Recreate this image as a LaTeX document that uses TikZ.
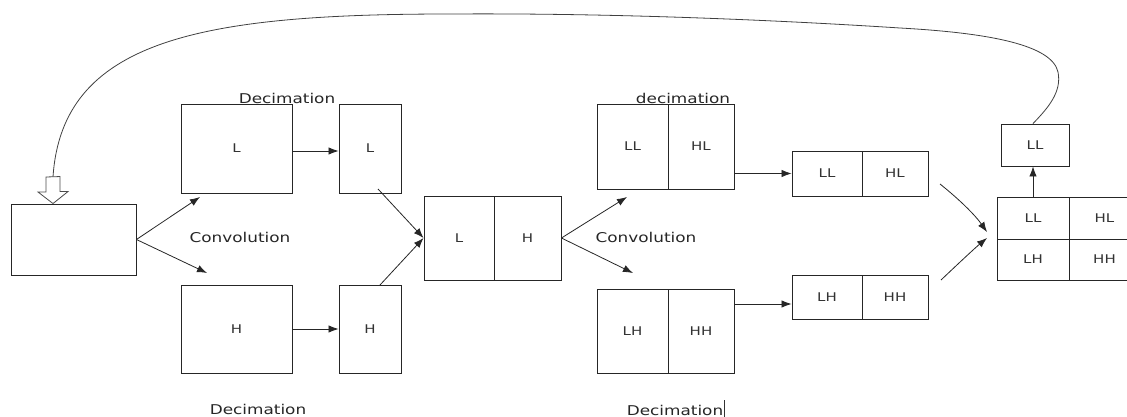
\documentclass[tikz,border=0pt]{standalone}
\usepackage{fontspec}
\setmainfont{DejaVu Sans}[FakeStretch=1.25]
\usetikzlibrary{arrows.meta,calc}

\begin{document}
\begin{tikzpicture}[x=1pt,y=-1pt,
  box/.style={draw=black!85, line width=0.9pt, inner sep=0pt,
    font=\fontsize{12}{14}\selectfont, text=black!80},
  arr/.style={-{Latex[length=10pt,width=7.5pt]}, line width=0.8pt, draw=black!85},
  lbl/.style={font=\fontsize{13.5}{16}\selectfont, text=black!85, inner sep=0pt}]

\useasboundingbox (0,0) rectangle (1127,417);
\clip (0,0) rectangle (1127,417);

% input image
\node[box, minimum width=125, minimum height=71] (inp) at (73.5,239.5) {};

% first level: low / high pass and decimation
\node[box, minimum width=111, minimum height=89] (L1) at (236.5,148.5) {L};
\node[box, minimum width=62,  minimum height=89] (L2) at (370,148.5) {L};
\node[box, minimum width=111, minimum height=88] (H1) at (236.5,329) {H};
\node[box, minimum width=62,  minimum height=88] (H2) at (370,329) {H};

% combined L | H
\node[box, minimum width=70, minimum height=84] (LHa) at (459,238) {L};
\node[box, minimum width=67, minimum height=84] (LHb) at (527.5,238) {H};

% second level
\node[box, minimum width=71, minimum height=85] (C1a) at (632.5,146.5) {LL};
\node[box, minimum width=66, minimum height=85] (C1b) at (701,146.5) {HL};
\node[box, minimum width=71, minimum height=84] (C2a) at (632.5,331) {LH};
\node[box, minimum width=66, minimum height=84] (C2b) at (701,331) {HH};

\node[box, minimum width=70, minimum height=45] (D1a) at (827,173.5) {LL};
\node[box, minimum width=66, minimum height=45] (D1b) at (895,173.5) {HL};
\node[box, minimum width=70, minimum height=44] (D2a) at (827,297) {LH};
\node[box, minimum width=66, minimum height=44] (D2b) at (895,297) {HH};

% four sub-bands
\node[box, minimum width=72, minimum height=42, text depth=-3pt] (qa) at (1033,218) {LL};
\node[box, minimum width=71, minimum height=42, text depth=-3pt] (qb) at (1104.5,218) {HL};
\node[box, minimum width=72, minimum height=41] (qc) at (1033,259.5) {LH};
\node[box, minimum width=71, minimum height=41] (qd) at (1104.5,259.5) {HH};

% LL band taken to the next level
\node[box, minimum width=68, minimum height=42] (out) at (1035,145) {LL};

% labels
\node[lbl] (dec1) at (287,98) {Decimation};
\node[lbl] (dec2) at (258,409) {Decimation};
\node[lbl] (dec3) at (683,98) {decimation};
\node[lbl] (dec4) at (675,410) {Decimation};
\draw[line width=0.7pt, black!80] (dec4.east) ++(1,-10) -- ++(0,20);
\node[lbl] (conv1) at (240,237) {Convolution};
\node[lbl] (conv2) at (646,237) {Convolution};

% arrow ends
\coordinate (e1) at (200,197);
\coordinate (e2) at (207,273);
\coordinate (s1) at (378,189);
\coordinate (s2) at (380,285);
\coordinate (e3) at (627,197);
\coordinate (e4) at (633,273);
\coordinate (s3) at (940,184);
\coordinate (s4) at (941,280);
\coordinate (e5) at (987,232);
\coordinate (e6) at (987,238);
\coordinate (fb) at (53,177);

% connectors
\draw[arr] (inp.east) -- (e1);
\draw[arr] (inp.east) -- (e2);
\draw[arr] (L1.east |- 0,151) -- (L2.west |- 0,151);
\draw[arr] (H1.east) -- (H2.west);
\draw[arr] (s1) -- (LHa.west);
\draw[arr] (s2) -- (LHa.west);
\draw[arr] (LHb.east) -- (e3);
\draw[arr] (LHb.east) -- (e4);
\draw[arr] (C1b.east |- D1a.west) -- (D1a.west);
\draw[arr] (C2b.east |- 0,304) -- (D2a.west |- 0,304);
\draw[arr] (s3) .. controls (960,200) and (975,215) .. (e5);
\draw[arr] (s4) .. controls (960,262) and (975,248) .. (e6);
\draw[arr] (qa.north) -- (qa.north |- out.south);

% feedback curve to the input
\draw[line width=0.8pt, black!75] (qa.north |- out.north)
  .. controls (1048,108) and (1062,92) .. (1058,72)
  .. controls (1052,45) and (990,33) .. (900,28)
  .. controls (760,19) and (600,13) .. (450,14)
  .. controls (200,14) and (62,40) .. (fb);

% hollow arrow into the input
\draw[line width=0.8pt, black!70, fill=white]
  (fb) ++(-7,0) -- ++(0,15) -- ++(-8,0) -- (inp.north -| fb) -- ++(15,-12)
  -- ++(-8,0) -- ++(0,-15) -- cycle;
\end{tikzpicture}
\end{document}
